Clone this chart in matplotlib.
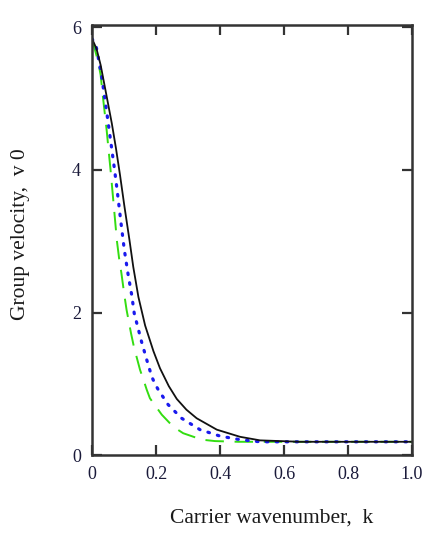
import matplotlib
matplotlib.use("Agg")
import matplotlib.pyplot as plt

# black solid curve
k_black = [0.0, 0.014, 0.027, 0.045, 0.062, 0.075, 0.0875, 0.101, 0.117, 0.129, 0.145, 0.166,
           0.192, 0.2125, 0.24, 0.265, 0.295, 0.327, 0.39, 0.4625, 0.525, 0.65, 0.8, 1.0]
v_black = [5.84, 5.70, 5.47, 5.05, 4.65, 4.30, 3.93, 3.50, 3.02, 2.64, 2.22, 1.82,
           1.46, 1.22, 0.97, 0.79, 0.64, 0.52, 0.36, 0.26, 0.21, 0.19, 0.19, 0.19]
# blue dotted curve
k_blue = [0.0, 0.013, 0.029, 0.040, 0.050, 0.060, 0.070, 0.079, 0.090, 0.101, 0.113, 0.124,
          0.132, 0.155, 0.171, 0.187, 0.197, 0.207, 0.238, 0.28, 0.3375, 0.40, 0.4625,
          0.525, 0.65, 0.8, 1.0]
v_blue = [5.84, 5.73, 5.35, 5.00, 4.68, 4.35, 4.02, 3.70, 3.28, 2.88, 2.53, 2.25,
          1.99, 1.59, 1.34, 1.10, 1.00, 0.92, 0.71, 0.52, 0.36, 0.27, 0.22,
          0.19, 0.19, 0.19, 0.19]
# green dashed curve
k_green = [0.0, 0.019, 0.027, 0.034, 0.040, 0.046, 0.052, 0.058, 0.063, 0.068, 0.073, 0.078,
           0.085, 0.092, 0.101, 0.108, 0.122, 0.131, 0.15, 0.163, 0.171, 0.181, 0.218,
           0.254, 0.285, 0.343, 0.384, 0.457, 0.55, 0.8, 1.0]
v_green = [5.84, 5.52, 5.33, 5.03, 4.79, 4.55, 4.27, 4.00, 3.75, 3.50, 3.25, 3.00,
           2.75, 2.55, 2.25, 2.04, 1.71, 1.52, 1.20, 1.03, 0.92, 0.80, 0.57,
           0.40, 0.31, 0.22, 0.20, 0.19, 0.19, 0.19, 0.19]

xticks = [0, 0.2, 0.4, 0.6, 0.8, 1.0]
xticklabels = ["0", "0.2", "0.4", "0.6", "0.8", "1.0"]
yticks = [0, 2, 4, 6]
yticklabels = ["0", "2", "4", "6"]

plt.rcParams['font.family'] = ['Liberation Serif', 'DejaVu Serif']

fig = plt.figure(figsize=(4.36, 5.45), dpi=100)
ax = fig.add_axes([0.211, 0.1645, 0.734, 0.7895])

ax.plot(k_green, v_green, color='#33dd11', lw=1.4, linestyle=(0, (9.5, 5.5)))
ax.plot(k_blue, v_blue, color='#1a1aee', lw=2.3, linestyle=(0, (0.5, 2.6)), dash_capstyle='round')
ax.plot(k_black, v_black, color='#111111', lw=1.3)

ax.set_xlim(0, 1.0)
ax.set_ylim(0, 6.03)
ax.set_xticks(xticks)
ax.set_xticklabels(xticklabels)
ax.set_yticks(yticks)
ax.set_yticklabels(yticklabels)
ax.tick_params(direction='in', length=7, width=1.6, top=True, right=True,
               labelsize=13, color='#333333', labelcolor='#1a1a3a', pad=8)
for s in ax.spines.values():
    s.set_linewidth(1.8)
    s.set_color('#333333')

fig.text(0.623, 0.0495, "Carrier wavenumber,  k", ha='center', va='center',
         fontsize=15.5, color='#1a1a1a')
fig.text(0.048, 0.570, "Group velocity,  v 0", ha='center', va='center',
         rotation=90, fontsize=15.5, color='#1a1a1a')

fig.savefig("out.png", dpi=100)
